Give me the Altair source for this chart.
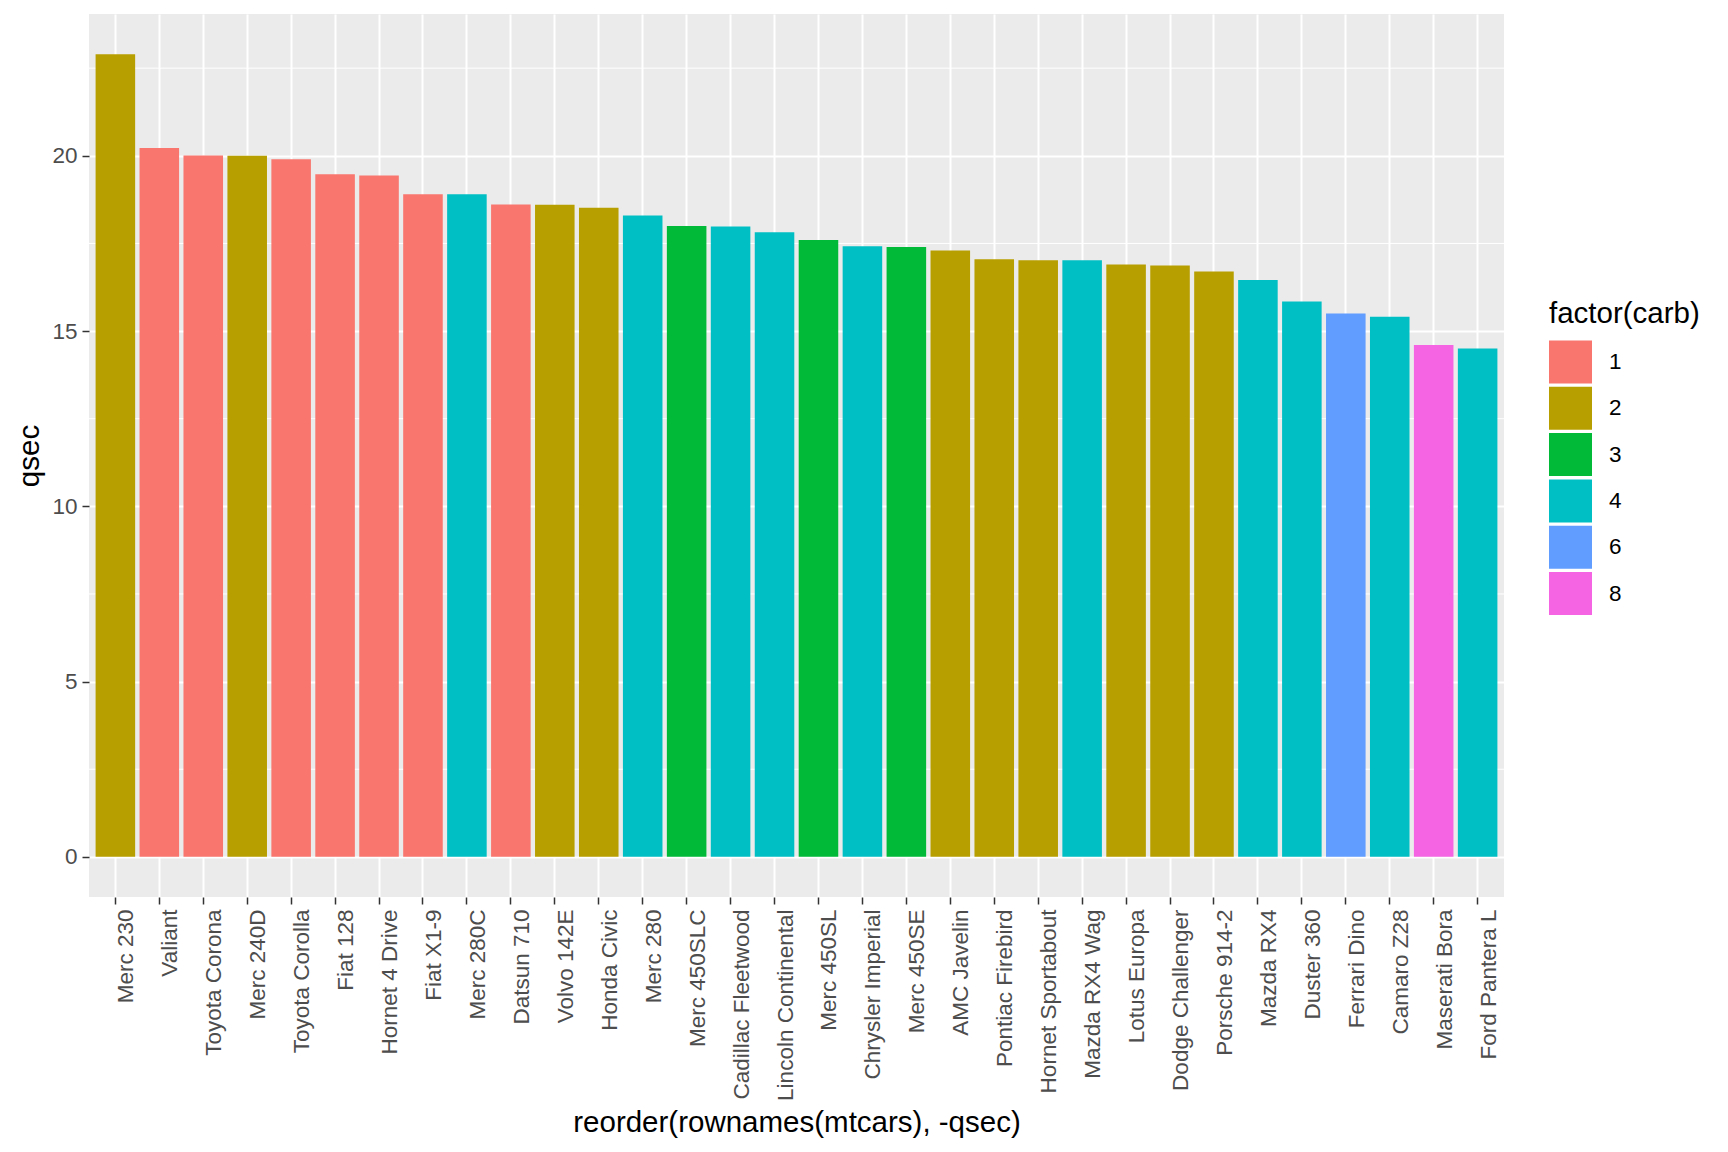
import altair as alt
import pandas as pd

cars = ["Merc 230", "Valiant", "Toyota Corona", "Merc 240D", "Toyota Corolla",
        "Fiat 128", "Hornet 4 Drive", "Fiat X1-9", "Merc 280C", "Datsun 710",
        "Volvo 142E", "Honda Civic", "Merc 280", "Merc 450SLC", "Cadillac Fleetwood",
        "Lincoln Continental", "Merc 450SL", "Chrysler Imperial", "Merc 450SE",
        "AMC Javelin", "Pontiac Firebird", "Hornet Sportabout", "Mazda RX4 Wag",
        "Lotus Europa", "Dodge Challenger", "Porsche 914-2", "Mazda RX4",
        "Duster 360", "Ferrari Dino", "Camaro Z28", "Maserati Bora", "Ford Pantera L"]
qsec = [22.90, 20.22, 20.01, 20.00, 19.90, 19.47, 19.44, 18.90, 18.90, 18.61,
        18.60, 18.52, 18.30, 18.00, 17.98, 17.82, 17.60, 17.42, 17.40, 17.30,
        17.05, 17.02, 17.02, 16.90, 16.87, 16.70, 16.46, 15.84, 15.50, 15.41,
        14.60, 14.50]
carb = [2, 1, 1, 2, 1, 1, 1, 1, 4, 1,
        2, 2, 4, 3, 4, 4, 3, 4, 3, 2,
        2, 2, 4, 2, 2, 2, 4, 4, 6, 4,
        8, 4]

carb_levels = ["1", "2", "3", "4", "6", "8"]
carb_colors = ["#F8766D", "#B79F00", "#00BA38", "#00BFC4", "#619CFF", "#F564E3"]
y_major = [0, 5, 10, 15, 20]
y_minor = [2.5, 7.5, 12.5, 17.5, 22.5]

df = pd.DataFrame({"car": cars, "qsec": qsec, "carb": [str(c) for c in carb]})
minor_df = pd.DataFrame({"v": y_minor})

yscale = alt.Scale(domain=[-1.145, 24.045], nice=False, zero=False)

minor = alt.Chart(minor_df).mark_rule(color="white", strokeWidth=1).encode(
    y=alt.Y("v:Q", scale=yscale, title="qsec")
)

bars = alt.Chart(df).mark_bar().encode(
    x=alt.X("car:N", sort=cars,
            scale=alt.Scale(paddingInner=0.1, paddingOuter=0.15),
            axis=alt.Axis(title="reorder(rownames(mtcars), -qsec)", labelAngle=-90,
                          labelBaseline="top", labelAlign="right",
                          labelLimit=600, labelPadding=5, titlePadding=11,
                          bandPosition=0.5)),
    y=alt.Y("qsec:Q", scale=yscale,
            axis=alt.Axis(title="qsec", values=y_major, labelPadding=5, titlePadding=7)),
    y2=alt.datum(0),
    color=alt.Color("carb:N", scale=alt.Scale(domain=carb_levels, range=carb_colors),
                    legend=alt.Legend(title="factor(carb)", orient="none",
                                      legendX=1460, legendY=286,
                                      symbolType="square", symbolSize=1849,
                                      symbolStrokeWidth=0,
                                      symbolOpacity=1, rowPadding=3.3, labelOffset=17,
                                      titlePadding=11, labelFontSize=22.5,
                                      labelColor="black", titleFontSize=29.5,
                                      titleFontWeight="normal", titleColor="black")),
)

chart = alt.layer(minor, bars).properties(
    width=1415, height=883,
    autosize=alt.AutoSizeParams(type="none"),
    padding={"left": 81, "top": 6, "right": 200, "bottom": 248},
).configure(
    font="Liberation Sans"
).configure_view(
    fill="#EBEBEB", strokeWidth=0
).configure_axis(
    grid=True, gridColor="white", gridWidth=2, domain=False,
    tickColor="#333333", tickSize=7, tickWidth=1.5,
    labelFontSize=22.5, labelColor="#4D4D4D",
    titleFontSize=29.5, titleFontWeight="normal", titleColor="black"
)

chart.save("out.html", embed_options={"renderer": "svg", "actions": False})
